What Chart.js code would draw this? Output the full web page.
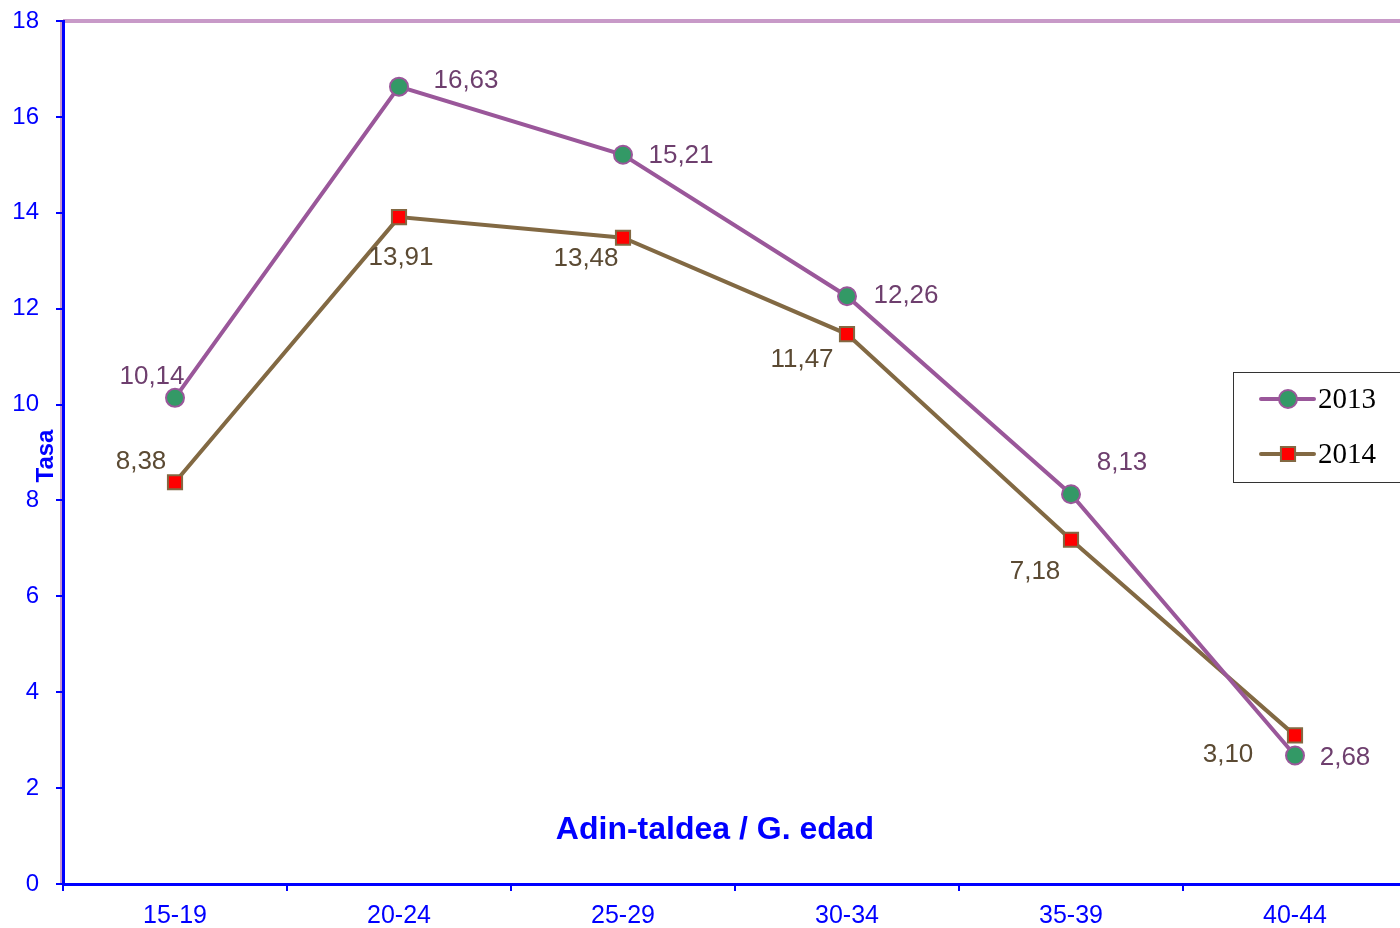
<!DOCTYPE html>
<html>
<head>
<meta charset="utf-8">
<script src="https://cdn.jsdelivr.net/npm/chart.js@4.4.1/dist/chart.umd.min.js"></script>
<style>
html,body{margin:0;padding:0;background:#fff;overflow:hidden;width:1400px;height:928px;}
canvas{display:block;}
</style>
</head>
<body>
<canvas id="c" width="1419" height="928" style="width:1419px;height:928px;"></canvas>
<script>
const categories = ['15-19','20-24','25-29','30-34','35-39','40-44'];
const series2013 = [10.14, 16.63, 15.21, 12.26, 8.13, 2.68];
const series2014 = [8.38, 13.91, 13.48, 11.47, 7.18, 3.10];
const seriesNames = ['2013','2014'];
const yTicks = [0,2,4,6,8,10,12,14,16,18];

const SANS = '"Liberation Sans", Arial, sans-serif';
const SERIF = '"Liberation Serif", "Times New Roman", serif';
const BLUE = '#0000FF';

// label offsets (style/layout, relative to point)
const labelOffsets = [
  [[-23,-21],[67,-6],[58,1],[59,0],[51,-31],[50,2]],
  [[-34,-20],[2,41],[-37,21],[-45,26],[-36,32],[-67,19]]
];
const labelColors = ['#6E3F6E','#5B4A33'];

const fmt = v => v.toFixed(2).replace('.', ',');

const deco = {
  id: 'deco',
  beforeDraw(chart) {
    const {ctx, chartArea: a} = chart;
    ctx.save();
    ctx.strokeStyle = '#C89AC8';
    ctx.lineWidth = 4;
    ctx.beginPath();
    ctx.moveTo(a.left, a.top);
    ctx.lineTo(a.right, a.top);
    ctx.stroke();
    ctx.lineWidth = 2;
    ctx.beginPath();
    ctx.moveTo(a.left - 2, a.top);
    ctx.lineTo(a.left - 2, a.bottom);
    ctx.stroke();
    ctx.restore();
  },
  afterDatasetsDraw(chart) {
    const {ctx} = chart;
    ctx.save();
    ctx.font = '26px ' + SANS;
    ctx.textAlign = 'center';
    ctx.textBaseline = 'middle';
    chart.data.datasets.forEach((ds, di) => {
      const meta = chart.getDatasetMeta(di);
      ctx.fillStyle = labelColors[di];
      meta.data.forEach((pt, i) => {
        const o = labelOffsets[di][i];
        ctx.fillText(fmt(ds.data[i]), pt.x + o[0], pt.y + o[1]);
      });
    });
    ctx.restore();
  },
  afterDraw(chart) {
    const {ctx} = chart;
    ctx.save();
    ctx.fillStyle = BLUE;
    ctx.font = 'bold 32px ' + SANS;
    ctx.textAlign = 'center';
    ctx.textBaseline = 'middle';
    ctx.fillText('Adin-taldea / G. edad', 715, 830);
    ctx.save();
    ctx.translate(46, 456);
    ctx.rotate(-Math.PI/2);
    ctx.font = 'bold 24px ' + SANS;
    ctx.fillText('Tasa', 0, 0);
    ctx.restore();
    // legend
    const lx = 1233, ly = 372, lw = 180, lh = 110;
    ctx.fillStyle = '#fff';
    ctx.fillRect(lx, ly, lw, lh);
    ctx.strokeStyle = '#333';
    ctx.lineWidth = 1;
    ctx.strokeRect(lx + 0.5, ly + 0.5, lw, lh);
    const rows = [399, 454];
    chart.data.datasets.forEach((ds, di) => {
      const y = rows[di];
      ctx.strokeStyle = ds.borderColor;
      ctx.lineWidth = 4;
      ctx.lineCap = 'round';
      ctx.beginPath();
      ctx.moveTo(1261, y);
      ctx.lineTo(1314, y);
      ctx.stroke();
      ctx.lineCap = 'butt';
      ctx.fillStyle = ds.pointBackgroundColor;
      ctx.strokeStyle = ds.pointBorderColor;
      ctx.lineWidth = ds.pointBorderWidth;
      ctx.beginPath();
      if (ds.pointStyle === 'circle') {
        ctx.arc(1288, y, ds.pointRadius, 0, Math.PI*2);
      } else {
        const s = Math.SQRT1_2 * ds.pointRadius;
        ctx.rect(1288 - s, y - s, 2*s, 2*s);
      }
      ctx.fill();
      ctx.stroke();
      ctx.fillStyle = '#000';
      ctx.font = '29px ' + SERIF;
      ctx.textAlign = 'left';
      ctx.fillText(seriesNames[di], 1318, y + 1);
    });
    ctx.restore();
  }
};

new Chart(document.getElementById('c'), {
  type: 'line',
  data: {
    labels: categories,
    datasets: [
      {
        label: seriesNames[0],
        data: series2013,
        borderColor: '#9A579A',
        borderWidth: 4,
        pointStyle: 'circle',
        pointRadius: 9,
        pointBorderWidth: 2,
        pointBackgroundColor: '#339966',
        pointBorderColor: '#9A579A',
        tension: 0
      },
      {
        label: seriesNames[1],
        data: series2014,
        borderColor: '#826943',
        borderWidth: 4,
        pointStyle: 'rect',
        pointRadius: 10,
        pointBorderWidth: 2,
        pointBackgroundColor: '#FF0000',
        pointBorderColor: '#826943',
        tension: 0
      }
    ]
  },
  options: {
    responsive: false,
    animation: false,
    devicePixelRatio: 1,
    layout: {padding: {top: 21, right: 0, left: 0, bottom: 0}},
    plugins: {legend: {display: false}, tooltip: {enabled: false}},
    scales: {
      x: {
        offset: true,
        grid: {offset: true, drawOnChartArea: false, drawTicks: true, tickLength: 7, color: BLUE, lineWidth: 2},
        border: {display: true, color: BLUE, width: 3},
        ticks: {color: BLUE, font: {family: SANS, size: 25}, padding: 10, maxRotation: 0},
        afterFit(s) { s.height = 44; s.paddingLeft = 0; s.paddingRight = 0; }
      },
      y: {
        min: 0, max: 18,
        afterBuildTicks(s) { s.ticks = yTicks.map(v => ({value: v})); },
        grid: {drawOnChartArea: false, drawTicks: true, tickLength: 7, color: BLUE, lineWidth: 2},
        border: {display: true, color: BLUE, width: 3},
        ticks: {color: BLUE, font: {family: SANS, size: 24}, padding: 17},
        afterFit(s) { s.width = 63; s.paddingTop = 0; s.paddingBottom = 0; }
      }
    }
  },
  plugins: [deco]
});
</script>
</body>
</html>
